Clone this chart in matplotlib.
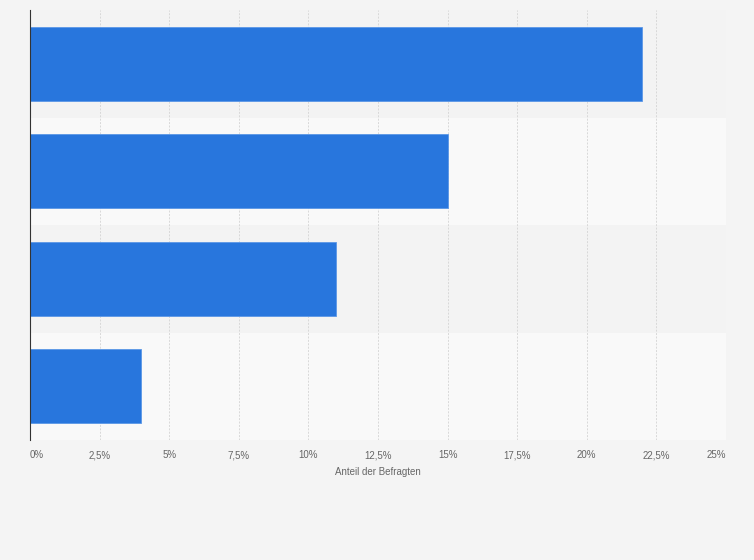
import numpy as np
import matplotlib
matplotlib.use('Agg')
import matplotlib.pyplot as plt

# survey shares, top to bottom
categories = ['A', 'B', 'C', 'D']
values = [22, 15, 11, 4]
xticks = [0, 2.5, 5, 7.5, 10, 12.5, 15, 17.5, 20, 22.5, 25]
xticklabels = ['0%', '2,5%', '5%', '7,5%', '10%', '12,5%', '15%', '17,5%', '20%', '22,5%', '25%']

fig = plt.figure(figsize=(7.54, 5.6), dpi=100, facecolor='#f4f4f4')
ax = fig.add_axes([30/754, 1-440/560, 696/754, 430/560])
ax.set_facecolor('#f4f4f4')

y = np.arange(len(categories))
# alternating bands
for i in y:
    ax.axhspan(i-0.5, i+0.5, color='#f3f3f3' if i % 2 == 0 else '#f9f9f9', zorder=0, lw=0)

ax.barh(y, values, height=0.69, color='#2876dd', edgecolor='#5b97e6', linewidth=0.6, zorder=3)

ax.set_ylim(len(categories)-0.5, -0.5)
ax.set_xlim(0, 25)
ax.set_xticks(xticks)
ax.set_xticklabels(xticklabels, fontsize=7, color='#666666', family='Liberation Sans')
labels = ax.get_xticklabels()
for lab in labels:
    lab.set_va('baseline')
labels[0].set_ha('left')
labels[-1].set_ha('right')
ax.set_yticks([])
ax.tick_params(axis='x', length=0, pad=13)
ax.grid(axis='x', color='#d8d8d8', linestyle=(0, (2, 1.5)), linewidth=0.7, zorder=1)
for s in ['top', 'right', 'bottom']:
    ax.spines[s].set_visible(False)
ax.spines['left'].set_color('#333333')
ax.spines['left'].set_linewidth(0.8)
ax.spines['left'].set_zorder(4)
ax.set_xlabel('Anteil der Befragten', fontsize=7, color='#666666', family='Liberation Sans', labelpad=5)

fig.savefig('out.png', dpi=100, facecolor=fig.get_facecolor())
